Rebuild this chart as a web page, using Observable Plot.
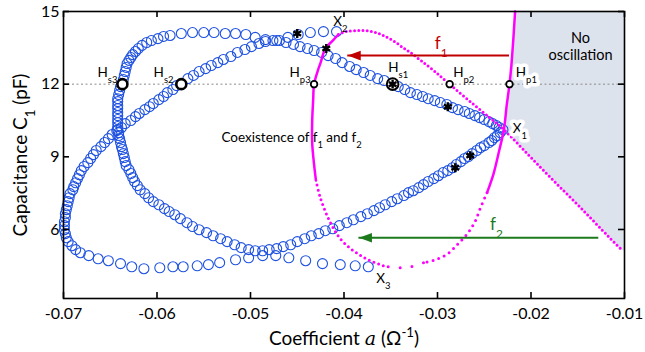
<!DOCTYPE html>
<html>
<head>
<meta charset="utf-8">
<script src="https://cdn.jsdelivr.net/npm/d3@7"></script>
<script src="https://cdn.jsdelivr.net/npm/@observablehq/plot@0.6"></script>
<style>
  html, body { margin: 0; padding: 0; background: #fff; }
  #chart { width: 645px; height: 352px; }
</style>
</head>
<body>
<div id="chart"></div>
<script>
// ---------- axes ----------
const xDomain = [-0.07, -0.01];
const yDomain = [3.15, 15];
const xTicks = [-0.07, -0.06, -0.05, -0.04, -0.03, -0.02, -0.01];
const xTickLabels = ["-0.07", "-0.06", "-0.05", "-0.04", "-0.03", "-0.02", "-0.01"];
const yTicks = [6, 9, 12, 15];
const yTickLabels = ["6", "9", "12", "15"];

// ---------- blue continuation curve: X3 -> left tip -> Hs2 -> peak -> Hs1 -> X1 ----------
const branchX3toX1 = [
  [-0.0374,4.46],[-0.0388,4.50],[-0.0404,4.55],[-0.0423,4.59],[-0.0441,4.71],[-0.0459,4.83],
  [-0.0473,4.92],[-0.0487,4.92],[-0.0502,4.83],[-0.0516,4.75],[-0.0533,4.63],[-0.0545,4.55],
  [-0.0557,4.50],[-0.0572,4.46],[-0.0583,4.46],[-0.0597,4.42],[-0.0614,4.38],[-0.0627,4.46],
  [-0.0639,4.59],[-0.0652,4.71],[-0.0663,4.79],[-0.0673,4.92],[-0.0682,5.04],[-0.0687,5.17],
  [-0.0691,5.33],[-0.0695,5.50],[-0.0697,5.66],[-0.0698,5.83],[-0.0699,5.99],[-0.0699,6.16],
  [-0.0699,6.32],[-0.0698,6.49],[-0.0698,6.65],[-0.0697,6.82],[-0.0696,6.98],[-0.0695,7.15],
  [-0.0694,7.31],[-0.0693,7.48],[-0.0690,7.64],[-0.0689,7.77],[-0.0687,7.93],[-0.0685,8.10],
  [-0.0683,8.26],[-0.0681,8.43],[-0.0678,8.60],[-0.0674,8.76],[-0.0671,8.93],[-0.0668,9.09],
  [-0.0665,9.26],[-0.0660,9.42],[-0.0656,9.59],[-0.0652,9.75],[-0.0648,9.92],[-0.0643,10.08],
  [-0.0638,10.21],[-0.0634,10.37],[-0.0628,10.50],[-0.0623,10.66],[-0.0619,10.79],[-0.0613,10.95],
  [-0.0608,11.07],[-0.0604,11.20],[-0.0598,11.36],[-0.0593,11.49],[-0.0589,11.65],[-0.0583,11.78],
  [-0.0579,11.94],[-0.0574,12.00],[-0.0567,12.23],[-0.0561,12.36],[-0.0555,12.52],[-0.0548,12.64],
  [-0.0542,12.77],[-0.0535,12.89],[-0.0529,13.02],[-0.0521,13.14],[-0.0514,13.31],[-0.0506,13.43],
  [-0.0499,13.55],[-0.0491,13.68],[-0.0484,13.76],[-0.0476,13.80],[-0.0469,13.80],[-0.0462,13.72],
  [-0.0454,13.64],[-0.0447,13.55],[-0.0439,13.47],[-0.0432,13.39],[-0.0424,13.31],[-0.0417,13.18],
  [-0.0409,13.06],[-0.0402,12.89],[-0.0394,12.73],[-0.0387,12.60],[-0.0379,12.48],[-0.0372,12.36],
  [-0.0364,12.23],[-0.0357,12.15],[-0.0348,12.00],[-0.0342,11.90],[-0.0335,11.78],[-0.0329,11.65],
  [-0.0322,11.57],[-0.0316,11.49],[-0.0310,11.40],[-0.0303,11.32],[-0.0297,11.24],[-0.0290,11.16],
  [-0.0284,11.03],[-0.0278,10.95],[-0.0271,10.87],[-0.0266,10.79],[-0.0260,10.70],[-0.0255,10.62],
  [-0.0250,10.54],[-0.0245,10.45],[-0.0241,10.37],[-0.0237,10.29],[-0.0234,10.21],[-0.0230,10.12]
];

// ---------- blue continuation curve: X1 -> minimum -> Hs3 -> top row -> X2 ----------
const branchX1toX2 = [
  [-0.0233,10.00],[-0.0236,9.88],[-0.0239,9.79],[-0.0242,9.67],[-0.0245,9.59],[-0.0250,9.46],
  [-0.0254,9.38],[-0.0258,9.26],[-0.0263,9.13],[-0.0267,9.01],[-0.0271,8.93],[-0.0275,8.80],
  [-0.0280,8.68],[-0.0284,8.55],[-0.0289,8.43],[-0.0294,8.35],[-0.0299,8.22],[-0.0304,8.10],
  [-0.0310,7.98],[-0.0315,7.85],[-0.0320,7.73],[-0.0326,7.60],[-0.0331,7.52],[-0.0336,7.40],
  [-0.0343,7.27],[-0.0349,7.15],[-0.0356,7.02],[-0.0362,6.90],[-0.0368,6.78],[-0.0375,6.65],
  [-0.0382,6.53],[-0.0390,6.40],[-0.0397,6.28],[-0.0405,6.16],[-0.0412,6.03],[-0.0420,5.95],
  [-0.0427,5.83],[-0.0435,5.74],[-0.0442,5.62],[-0.0450,5.50],[-0.0457,5.37],[-0.0465,5.29],
  [-0.0472,5.21],[-0.0480,5.17],[-0.0487,5.12],[-0.0495,5.12],[-0.0502,5.17],[-0.0510,5.25],
  [-0.0517,5.37],[-0.0525,5.50],[-0.0532,5.62],[-0.0540,5.74],[-0.0547,5.87],[-0.0555,5.99],
  [-0.0562,6.12],[-0.0568,6.28],[-0.0575,6.45],[-0.0581,6.61],[-0.0587,6.74],[-0.0592,6.86],
  [-0.0598,7.02],[-0.0604,7.15],[-0.0609,7.31],[-0.0613,7.48],[-0.0618,7.64],[-0.0621,7.81],
  [-0.0624,7.98],[-0.0626,8.14],[-0.0628,8.31],[-0.0630,8.47],[-0.0633,8.64],[-0.0634,8.80],
  [-0.0635,8.97],[-0.0636,9.13],[-0.0637,9.30],[-0.0638,9.42],[-0.0639,9.59],[-0.0640,9.75],
  [-0.0641,9.88],[-0.0641,10.00],[-0.0642,10.12],[-0.0642,10.25],[-0.0642,10.41],[-0.0642,10.54],
  [-0.0642,10.70],[-0.0642,10.83],[-0.0642,10.99],[-0.0642,11.12],[-0.0642,11.28],[-0.0642,11.40],
  [-0.0641,11.57],[-0.0640,11.74],[-0.0639,11.90],[-0.0637,12.00],[-0.0636,12.19],[-0.0635,12.36],
  [-0.0634,12.52],[-0.0633,12.69],[-0.0632,12.85],[-0.0630,12.98],[-0.0628,13.10],[-0.0626,13.22],
  [-0.0623,13.35],[-0.0620,13.47],[-0.0616,13.60],[-0.0611,13.72],[-0.0606,13.80],[-0.0599,13.88],
  [-0.0593,13.97],[-0.0586,14.01],[-0.0574,14.09],[-0.0562,14.13],[-0.0550,14.13],[-0.0539,14.13],
  [-0.0527,14.09],[-0.0516,14.09],[-0.0505,14.05],[-0.0495,13.93],[-0.0484,13.84],[-0.0472,13.80],
  [-0.0460,13.93],[-0.0449,14.05],[-0.0436,14.13],[-0.0422,14.17],[-0.0408,14.17]
];

// ---------- magenta curve pieces ----------
const hopfRight = [[-0.0217,15.0],[-0.0219,13.80],[-0.0221,12.77],[-0.0223,12.00],[-0.0226,11.12],
  [-0.0229,10.12],[-0.0234,9.26],[-0.0240,8.31],[-0.0247,7.52]];
const hopfLowerRight = [[-0.0247,7.52],[-0.0254,6.90],[-0.0260,6.32],[-0.0268,5.83],[-0.0278,5.41],
  [-0.0289,5.00],[-0.0302,4.75],[-0.0315,4.63]];
const hopfBottom = [[-0.0315,4.63],[-0.0329,4.46],[-0.0343,4.42],[-0.0358,4.50]];
const hopfLowerLeft = [[-0.0358,4.50],[-0.0372,4.71],[-0.0382,4.92],[-0.0393,5.21],[-0.0404,5.62],
  [-0.0411,6.03],[-0.0418,6.57],[-0.0425,7.27],[-0.0430,8.02]];
const hopfLeft = [[-0.0430,8.02],[-0.0434,9.55],[-0.0434,10.50],[-0.0433,11.32],[-0.0432,12.00],
  [-0.0428,12.56],[-0.0425,12.89],[-0.0420,13.47],[-0.0412,13.80],[-0.0406,14.05]];
const hopfDiagonal = [[-0.0406,14.05],[-0.0398,14.17],[-0.0388,14.21],[-0.0377,14.21],[-0.0366,14.13],
  [-0.0356,13.97],[-0.0346,13.76],[-0.0337,13.51],[-0.0329,13.31],[-0.0318,12.98],[-0.0304,12.56],
  [-0.0287,12.00],[-0.0265,11.28],[-0.0243,10.58],[-0.0229,10.12],[-0.0203,9.09],[-0.0176,8.02],
  [-0.0147,6.90],[-0.0117,5.70],[-0.0102,5.12]];

// ---------- special points ----------
const bigHopf = [["H_{s3}",-0.0637,12],["H_{s2}",-0.0574,12]];
const hs1 = [["H_{s1}",-0.0348,12]];
const smallHopf = [["H_{p3}",-0.0432,12],["H_{p2}",-0.0287,12],["H_{p1}",-0.0223,12]];
const stars = [[-0.0450,14.09],[-0.0419,13.47],[-0.0348,12.0],[-0.0289,11.07],[-0.0265,9.05],[-0.0281,8.55]];

// labels: [text, a, C]
const pointLabels = [["H_{s3}",-0.0653,12.48],["H_{s2}",-0.0593,12.48],["H_{p3}",-0.0447,12.48],
  ["H_{s1}",-0.0342,12.69],["H_{p2}",-0.0272,12.48],["X_{2}",-0.0404,14.59],["X_{3}",-0.0358,3.97]];
const boxedLabels = [["H_{p1}",-0.0205,12.48],["X_{1}",-0.0212,10.17]];

// arrows: [label, from a, to a, C, label a, label C]
const arrowF1 = [["f_{1}",-0.0223,-0.0396,13.18,-0.0296,13.68]];
const arrowF2 = [["f_{2}",-0.01275,-0.0384,5.66,-0.0237,6.20]];

const region = [["No\noscillation",-0.0147,13.57],["Coexistence of f_{1} and f_{2}",-0.0456,9.79]];

// ---------- build ----------
const blue = "#1f52e0";
const magenta = "#ff00ff";
const red = "#c00000";
const green = "#1c7a1c";

// gray region boundary derived from the magenta curve (top to X1, then diagonal)
const grayEdge = hopfRight.slice(0, 6).concat(hopfDiagonal.slice(15));

const arrowHead = {
  draw(ctx) { ctx.moveTo(0, 0); ctx.lineTo(13, -4.8); ctx.lineTo(13, 4.8); ctx.closePath(); }
};

const magentaDots = (data, gap) => Plot.line(data, {
  x: d => d[0], y: d => d[1], stroke: magenta, strokeWidth: 3,
  strokeDasharray: `0,${gap}`, strokeLinecap: "round", curve: "catmull-rom"
});

const chart = Plot.plot({
  width: 645, height: 352,
  marginLeft: 63, marginRight: 21, marginTop: 11, marginBottom: 54,
  x: {domain: xDomain},
  y: {domain: yDomain},
  style: {fontFamily: "Lato, 'Open Sans', sans-serif", fontSize: "16px", background: "white", color: "black"},
  marks: [
    Plot.areaX(grayEdge, {y: d => d[1], x1: d => d[0], x2: xDomain[1], fill: "#dde3ed"}),
    Plot.ruleY([12], {stroke: "#8a8a8a", strokeDasharray: "2,2.5", strokeWidth: 1}),
    Plot.dot(branchX3toX1.concat(branchX1toX2), {x: d => d[0], y: d => d[1], r: 5, stroke: blue, strokeWidth: 1.1, fill: "none"}),
    Plot.line(hopfRight, {x: d => d[0], y: d => d[1], stroke: magenta, strokeWidth: 2.5, curve: "catmull-rom"}),
    magentaDots(hopfLowerRight, 6),
    magentaDots(hopfBottom, 12),
    magentaDots(hopfLowerLeft, 5),
    Plot.line(hopfLeft, {x: d => d[0], y: d => d[1], stroke: magenta, strokeWidth: 2.5, curve: "catmull-rom"}),
    magentaDots(hopfDiagonal, 4.2),
    // arrows
    Plot.ruleY(arrowF1, {y: d => d[3], x1: d => d[1], x2: d => d[2], stroke: red, strokeWidth: 2}),
    Plot.dot(arrowF1, {x: d => d[2], y: d => d[3], symbol: arrowHead, fill: red, stroke: "none"}),
    Plot.text(arrowF1, {x: d => d[4], y: d => d[5], text: d => d[0], fill: red, fontSize: 17}),
    Plot.ruleY(arrowF2, {y: d => d[3], x1: d => d[1], x2: d => d[2], stroke: green, strokeWidth: 2}),
    Plot.dot(arrowF2, {x: d => d[2], y: d => d[3], symbol: arrowHead, fill: green, stroke: "none"}),
    Plot.text(arrowF2, {x: d => d[4], y: d => d[5], text: d => d[0], fill: green, fontSize: 17}),
    // special points
    Plot.dot(bigHopf, {x: d => d[1], y: d => d[2], r: 5, stroke: "black", strokeWidth: 2.6, fill: "white"}),
    Plot.dot(hs1, {x: d => d[1], y: d => d[2], r: 5.8, stroke: "black", strokeWidth: 2, fill: "white"}),
    Plot.dot(smallHopf, {x: d => d[1], y: d => d[2], r: 3.3, stroke: "black", strokeWidth: 1.8, fill: "white"}),
    Plot.dot(stars, {x: d => d[0], y: d => d[1], symbol: "asterisk", r: 4.2, stroke: "black", strokeWidth: 2.4}),
    // labels
    Plot.text(pointLabels, {x: d => d[1], y: d => d[2], text: d => d[0], fontSize: 13.5}),
    Plot.text(boxedLabels, {x: d => d[1], y: d => d[2], text: d => d[0], fontSize: 13.5, stroke: "white", strokeWidth: 7, fill: "black"}),
    Plot.text(region.slice(0, 1), {x: d => d[1], y: d => d[2], text: d => d[0], fontSize: 14.5, lineHeight: 1.15}),
    Plot.text(region.slice(1), {x: d => d[1], y: d => d[2], text: d => d[0], fontSize: 13.5}),
    // frame and ticks (inward on all sides)
    Plot.frame({stroke: "black", strokeWidth: 1.6}),
    Plot.tickX(xTicks, {x: d => d, insetTop: 281, stroke: "black", strokeWidth: 1.6}),
    Plot.tickX(xTicks, {x: d => d, insetBottom: 281, stroke: "black", strokeWidth: 1.6}),
    Plot.tickY(yTicks, {y: d => d, insetRight: 555, stroke: "black", strokeWidth: 1.6}),
    Plot.tickY(yTicks, {y: d => d, insetLeft: 555, stroke: "black", strokeWidth: 1.6}),
    Plot.axisX({ticks: xTicks, tickSize: 0, tickPadding: 9, label: null, fontSize: 16,
      tickFormat: d => xTickLabels[xTicks.indexOf(d)]}),
    Plot.axisY({ticks: yTicks, tickSize: 0, tickPadding: 4, label: null, fontSize: 16,
      tickFormat: d => yTickLabels[yTicks.indexOf(d)]}),
    Plot.text(["Capacitance C_{1} (pF)"], {frameAnchor: "left", textAnchor: "middle", lineAnchor: "middle", dx: -43, rotate: -90, fontSize: 19}),
    Plot.text(["Coefficient ~{a} (Ω^{-1})"], {frameAnchor: "bottom", textAnchor: "middle", lineAnchor: "middle", dy: 40, fontSize: 19})
  ]
});

// rich text: _{sub}, ^{sup}, ~{italic}
const NS = "http://www.w3.org/2000/svg";
chart.querySelectorAll("text").forEach(el => {
  const s = el.textContent;
  if (!/[_^~]\{/.test(s)) return;
  const parts = s.split(/([_^~]\{[^}]*\})/);
  el.textContent = "";
  for (const p of parts) {
    if (!p) continue;
    const m = p.match(/^([_^~])\{([^}]*)\}$/);
    const t = document.createElementNS(NS, "tspan");
    if (m) {
      t.textContent = m[2];
      if (m[1] === "_") { t.setAttribute("baseline-shift", "sub"); t.setAttribute("font-size", "70%"); }
      else if (m[1] === "^") { t.setAttribute("baseline-shift", "super"); t.setAttribute("font-size", "70%"); }
      else { t.setAttribute("font-style", "italic"); t.setAttribute("font-family", "'DejaVu Serif', serif"); }
    } else {
      t.textContent = p;
    }
    el.appendChild(t);
  }
});

document.getElementById("chart").appendChild(chart);
</script>
</body>
</html>
